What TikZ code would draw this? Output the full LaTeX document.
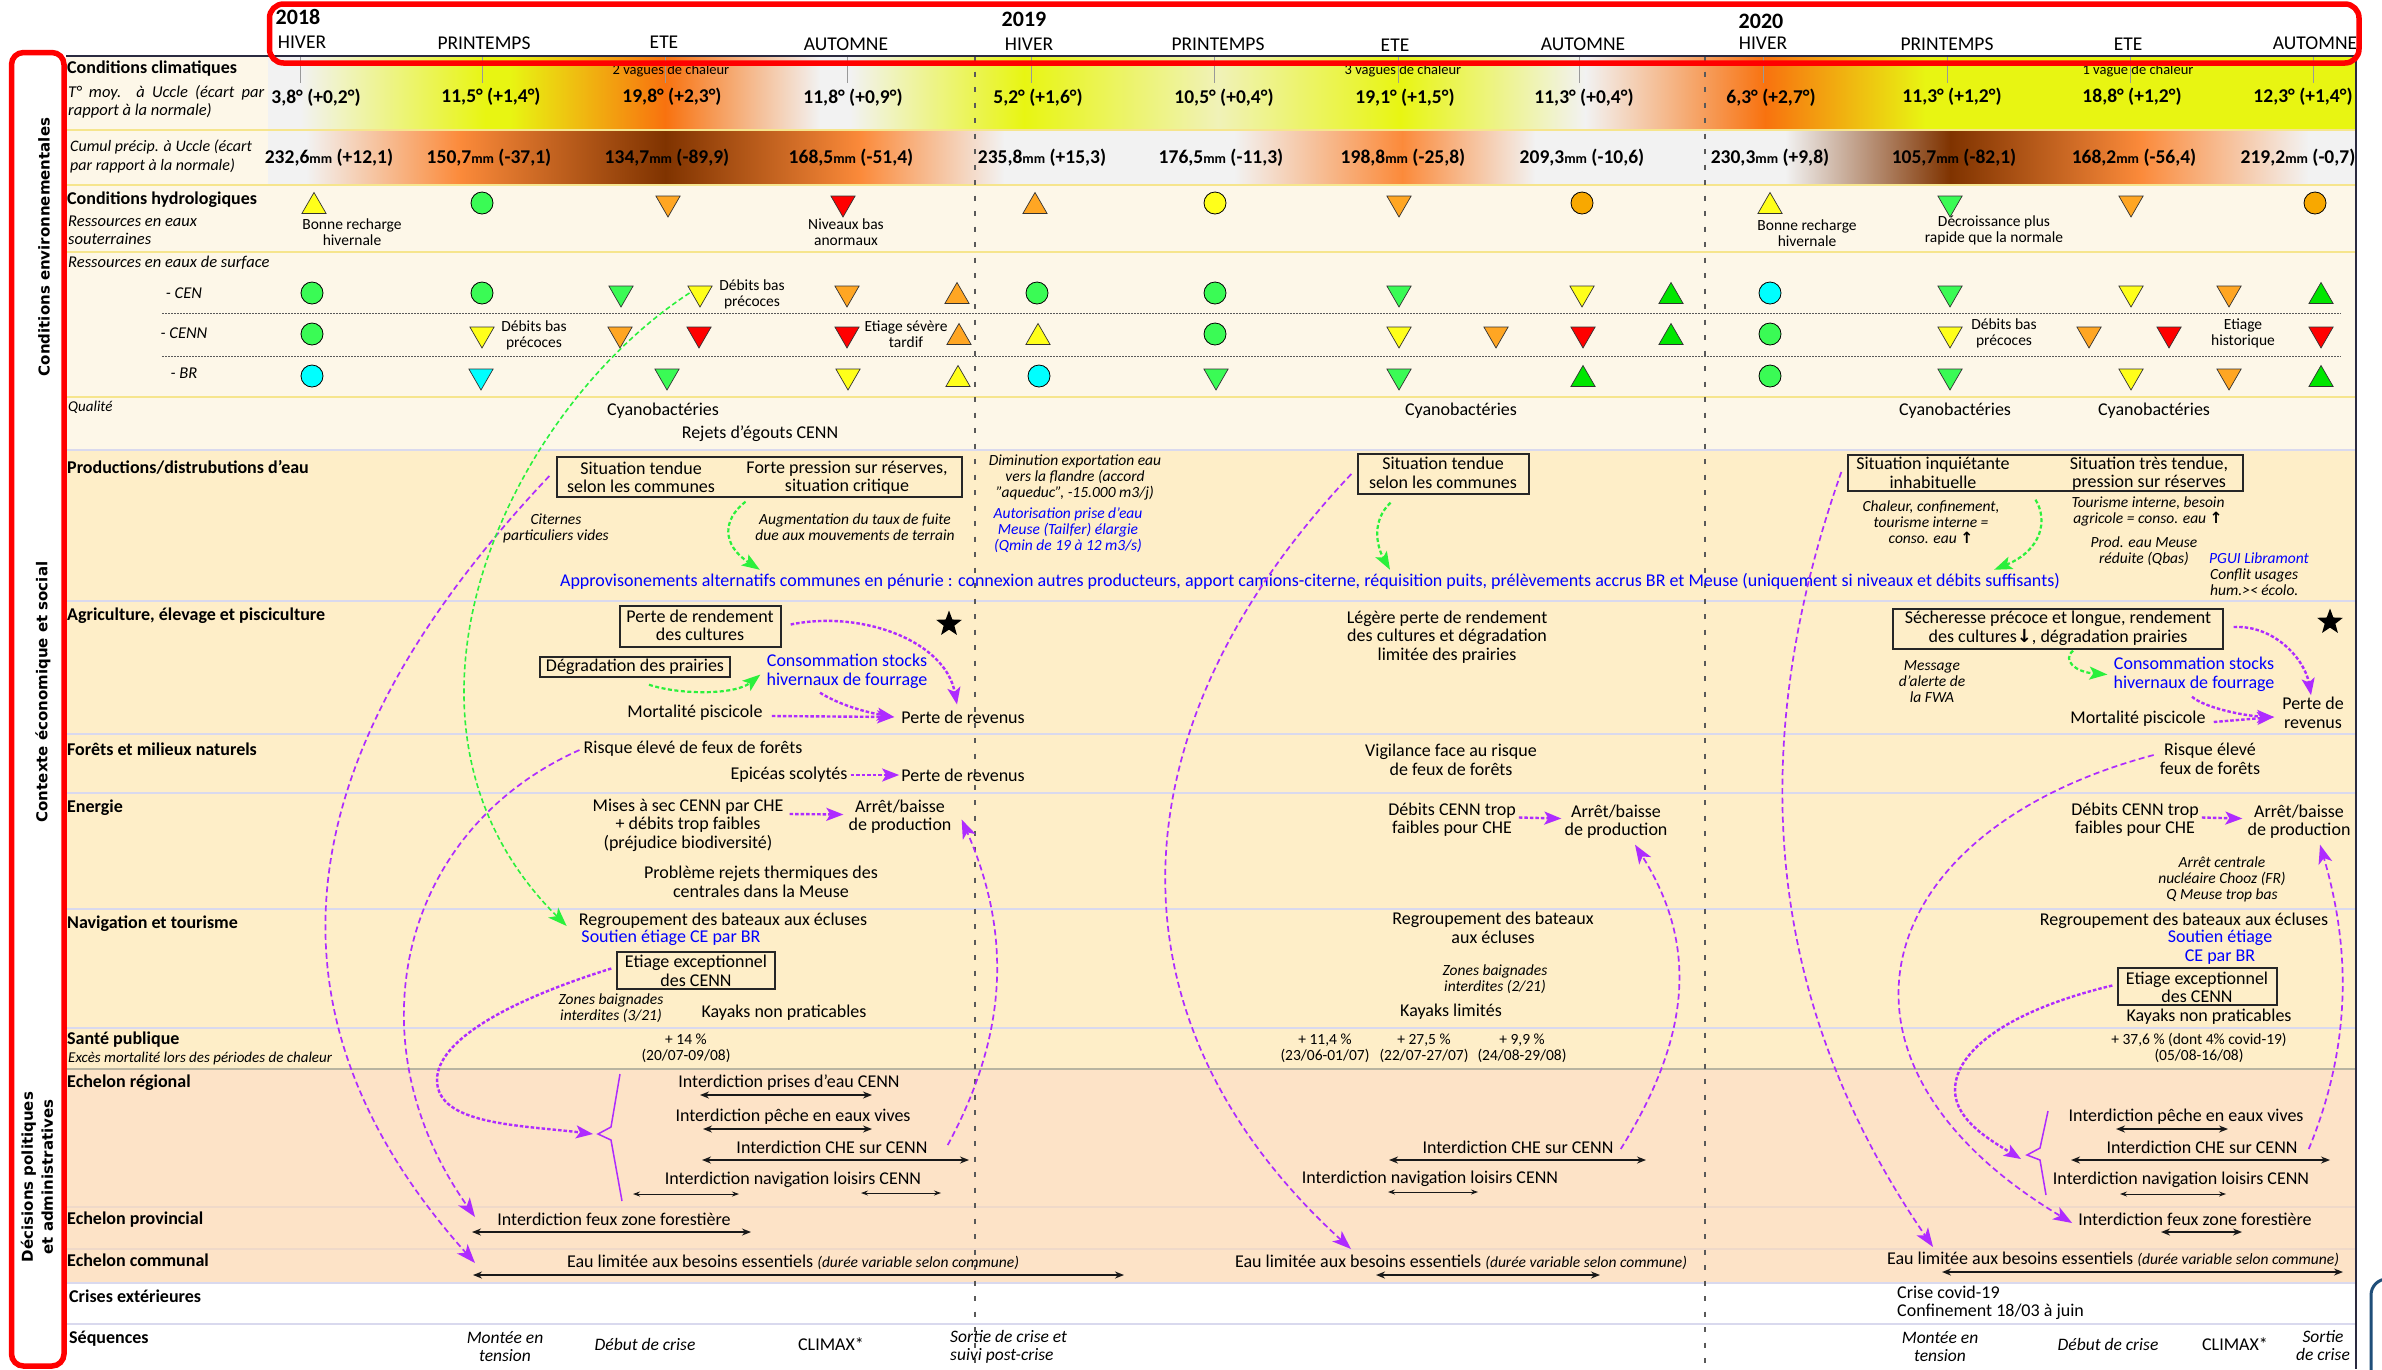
\documentclass[tikz,border=0pt]{standalone}
\usepackage{fontspec}
\setmainfont{Carlito}
\newfontfamily\rotfont{DejaVu Sans}
\newfontfamily\symfont{DejaVu Sans}
\usetikzlibrary{calc,shapes.geometric,arrows.meta,positioning}

\definecolor{cgray}{HTML}{F2F2F2}
\definecolor{cyel}{HTML}{E8F512}
\definecolor{cpale}{HTML}{F0F2B8}
\definecolor{corg}{HTML}{F8720F}
\definecolor{porg}{HTML}{FB8A3A}
\definecolor{pbrown}{HTML}{7F3300}
\definecolor{bandcream}{HTML}{FDF7E8}
\definecolor{bandsand}{HTML}{FEEEC8}
\definecolor{bandpeach}{HTML}{FDE3C7}
\definecolor{lineyel}{HTML}{F6E58D}
\definecolor{linelav}{HTML}{D9D9EE}
\definecolor{linepink}{HTML}{EFD9C9}
\definecolor{linegray}{HTML}{B8B4A0}
\definecolor{sgreen}{HTML}{3AFB55}
\definecolor{sgreenb}{HTML}{00E600}
\definecolor{syellow}{HTML}{FFFF1A}
\definecolor{sorange}{HTML}{FFA623}
\definecolor{sorangeb}{HTML}{F8A800}
\definecolor{sred}{HTML}{FF0000}
\definecolor{scyan}{HTML}{00FFFF}
\definecolor{flowpurple}{HTML}{AE2BFF}
\definecolor{flowgreen}{HTML}{2BF03C}
\definecolor{navy}{HTML}{2A2A40}
\definecolor{frameblue}{HTML}{1F4E79}

\newcommand{\upar}{{\symfont\bfseries\upshape ↑}}
\newcommand{\downar}{{\symfont\bfseries\upshape ↓}}
\newcommand{\precip}[2]{#1{\fontsize{14}{14}\selectfont mm} (#2)}
\newcommand{\eaulim}{Eau limitée aux besoins essentiels {\fontsize{15.5}{16}\selectfont\itshape (durée variable selon commune)}}

\tikzset{
  body/.style={inner sep=0pt,align=center,font=\fontsize{18}{18.5}\selectfont},
  bluebody/.style={body,text=blue},
  note/.style={inner sep=0pt,align=center,font=\fontsize{15.5}{16}\selectfont},
  ital/.style={inner sep=0pt,align=center,font=\fontsize{15.5}{16}\selectfont\itshape},
  seqtext/.style={inner sep=0pt,align=center,font=\fontsize{17.5}{18}\selectfont\itshape},
  rowlabel/.style={inner sep=0pt,anchor=west,font=\fontsize{18}{18}\selectfont\bfseries},
  rowital/.style={inner sep=0pt,anchor=west,align=left,font=\fontsize{16.5}{18}\selectfont\itshape},
  season/.style={inner sep=0pt,font=\fontsize{19.5}{20}\selectfont},
  yearlabel/.style={inner sep=0pt,font=\fontsize{22}{22}\selectfont\bfseries},
  climval/.style={inner sep=0pt,font=\fontsize{19.5}{20}\selectfont\bfseries},
  sidetitle/.style={inner sep=0pt,rotate=90,align=center,font=\fontsize{15}{20}\selectfont\rotfont\bfseries},
  tallybox/.style={draw=black!85,line width=1.4pt,inner sep=0pt},
  symup/.style={regular polygon,regular polygon sides=3,minimum size=28pt,inner sep=0pt,draw=black!80,line width=.7pt,yshift=-3.5pt},
  symdown/.style={symup,shape border rotate=180,yshift=3.5pt},
  symdot/.style={circle,minimum size=22pt,inner sep=0pt,draw=black,line width=.8pt},
  starmark/.style={star,star points=5,star point ratio=2.4,fill=black,minimum size=27pt,inner sep=0pt},
  flowthin/.style={draw=flowpurple,line width=1.7pt,dash pattern=on 6pt off 3.5pt,-{Stealth[length=19pt,width=14pt,inset=5pt]}},
  flowthick/.style={draw=flowpurple,line width=2.4pt,dash pattern=on 3.5pt off 2pt,-{Stealth[length=17pt,width=13pt,inset=4pt]}},
  greenthin/.style={draw=flowgreen,line width=1.6pt,dash pattern=on 5pt off 3pt,-{Stealth[length=19pt,width=14pt,inset=5pt]}},
  greenthick/.style={draw=flowgreen,line width=2.2pt,dash pattern=on 4pt off 2.5pt,-{Stealth[length=18pt,width=13pt,inset=4pt]}},
  spanarrow/.style={draw=black!90,line width=1.5pt,{Stealth[length=9pt,width=7pt]}-{Stealth[length=9pt,width=7pt]}},
  spanfine/.style={draw=black!90,line width=.9pt,{Stealth[length=7pt,width=5pt]}-{Stealth[length=7pt,width=5pt]}},
  bracket/.style={draw=flowpurple,line width=1.5pt}
}

\begin{document}
\begin{tikzpicture}[x=1pt,y=-1pt]

\useasboundingbox[fill=white] (0,0) rectangle (2382,1369);

% bands
\def\bands{57/130/bandcream,130/185/bandcream,185/252/bandcream,252/397/bandcream,397/450/bandcream,450/1069/bandsand,1069/1283/bandpeach}
\foreach \ya/\yb/\c in \bands
  \fill[\c] (66,\ya) rectangle (2355,\yb);

% gradients
\def\tempstops{268/300/cgray/cgray,300/485/cgray/cyel,485/510/cyel/cyel,510/665/cyel/corg,665/820/corg/cgray,820/850/cgray/cgray,850/1024/cgray/cyel,1024/1218/cyel/cpale,1218/1400/cpale/cyel,1400/1585/cyel/cgray,1585/1765/cgray/corg,1765/1925/corg/cyel,1925/2355/cyel/cyel}
\foreach \xa/\xb/\ca/\cb in \tempstops
  \shade[left color=\ca,right color=\cb] (\xa,57) rectangle (\xb+.5,129);
\def\rainstops{268/306/cgray/cgray,306/460/cgray/porg,460/665/porg/pbrown,665/860/pbrown/porg,860/1004/porg/cgray,1004/1234/cgray/cgray,1234/1402/cgray/porg,1402/1535/porg/cgray,1535/1785/cgray/cgray,1785/1950/cgray/pbrown,1950/2140/pbrown/porg,2140/2308/porg/cgray,2308/2355/cgray/cgray}
\foreach \xa/\xb/\ca/\cb in \rainstops
  \shade[left color=\ca,right color=\cb] (\xa,131) rectangle (\xb+.5,184);

% band rules
\def\rules{130/lineyel,185/lineyel,252/lineyel,397/lineyel,450/linelav,601/linelav,734/linelav,793/linelav,909/linelav,1028/linelav,1069/linegray,1207/linepink,1249/linepink,1283/linelav,1324/linelav}
\foreach \y/\c in \rules
  \draw[\c,line width=1.6pt] (66,\y) -- (2355,\y);
\foreach \y in {313,356}
  \draw[black!65,line width=.9pt,dash pattern=on 1.5pt off 1.5pt] (162,\y) -- (2341,\y);

% season ticks and year separators
\foreach \x in {300,482,665,847,1031,1214,1398,1579,1763,1947,2130,2313}
  \draw[black!40,line width=.8pt] (\x,57) -- (\x,83);
\foreach \x in {975,1705}
  \draw[black!65,line width=2pt,dash pattern=on 5pt off 10.5pt] (\x,56) -- (\x,1369);
\draw[navy,line width=2.4pt] (66,56) -- (2356,56);
\draw[navy,line width=2pt] (2356,56) -- (2356,1369);

% header
\def\years{2018/298/17,2019/1024/19,2020/1761/21}
\foreach \i/\x/\y in \years
  \node[yearlabel] (y\i) at (\x,\y) {\i};
\def\seasons{302/42/HIVER,484/43/PRINTEMPS,664/42/ETE,846/44/AUTOMNE,1029/44/HIVER,1218/44/PRINTEMPS,1395/45/ETE,1583/44/AUTOMNE,1763/43/HIVER,1947/44/PRINTEMPS,2128/44/ETE,2315/43/AUTOMNE}
\foreach \x/\y/\element [count=\i] in \seasons
  \node[season] (s\i) at (\x,\y) {\element};

% row labels
\def\rowlabels{climat/67/69/{Conditions climatiques},hydro/67/200/{Conditions hydrologiques},prod/67/467/{Productions/distrubutions d'eau},agri/67/616/{Agriculture, élevage et pisciculture},foret/67/749/{Forêts et milieux naturels},energ/67/808/{Energie},navig/67/924/{Navigation et tourisme},sante/67/1040/{Santé publique},regio/67/1083/{Echelon régional},provi/67/1220/{Echelon provincial},commu/67/1260/{Echelon communal},crises/69/1296/{Crises extérieures},seque/69/1339/{Séquences}}
\foreach \n/\x/\y/\element in \rowlabels
  \node[rowlabel] (\n) at (\x,\y) {\element};
\node[rowital,text width=196pt,align=justify] (tmoy) at (68,101.5) {T° moy. à Uccle (écart par rapport à la normale)};
\node[rowital,font=\fontsize{16}{19}\selectfont\itshape] (cumul) at (70,156.5) {Cumul précip. à Uccle (écart\\par rapport à la normale)};
\node[rowital] (eauxsout) at (68,230.5) {Ressources en eaux\\souterraines};
\node[rowital] (eauxsurf) at (68,263) {Ressources en eaux de surface};
\node[rowital,anchor=center] (lcen) at (184,293) {- CEN};
\node[rowital,anchor=center] (lcenn) at (184,333) {- CENN};
\node[rowital,anchor=center] (lbr) at (184,373) {- BR};
\node[rowital,font=\fontsize{15}{16}\selectfont\itshape] (qual) at (68,407) {Qualité};
\node[rowital,font=\fontsize{15}{16}\selectfont\itshape] (exces) at (68,1058) {Excès mortalité lors des périodes de chaleur};
\node[sidetitle] (side1) at (44,247) {Conditions environnementales};
\node[sidetitle] (side2) at (43,692) {Contexte économique et social};
\node[sidetitle] (side3) at (37,1177) {Décisions politiques\\et administratives};

% climate values
\def\tempvals{316/98/{3,8° (+0,2°)},491/97/{11,5° (+1,4°)},672/97/{19,8° (+2,3°)},853/98/{11,8° (+0,9°)},1038/98/{5,2° (+1,6°)},1224/98/{10,5° (+0,4°)},1405/98/{19,1° (+1,5°)},1584/98/{11,3° (+0,4°)},1771/98/{6,3° (+2,7°)},1952/97/{11,3° (+1,2°)},2132/97/{18,8° (+1,2°)},2303/97/{12,3° (+1,4°)}}
\foreach \x/\y/\element [count=\i] in \tempvals
  \node[climval] (t\i) at (\x,\y) {\element};
\def\rainvals{329/{232,6}/{+12,1},489/{150,7}/{-37,1},667/{134,7}/{-89,9},851/{168,5}/{-51,4},1042/{235,8}/{+15,3},1221/{176,5}/{-11,3},1403/{198,8}/{-25,8},1582/{209,3}/{-10,6},1770/{230,3}/{+9,8},1954/{105,7}/{-82,1},2134/{168,2}/{-56,4},2298/{219,2}/{-0,7}}
\foreach \x/\v/\d [count=\i] in \rainvals
  \node[climval] (p\i) at (\x,158) {\precip{\v}{\d}};
\def\waves{671/{2 vagues de chaleur},1403/{3 vagues de chaleur},2138/{1 vague de chaleur}}
\foreach \x/\element [count=\i] in \waves
  \node[note,font=\fontsize{14.5}{15}\selectfont] (w\i) at (\x,71) {\element};

% symbols
\def\hydrosyms{314/syellow/symup,482/sgreen/symdot,668/sorange/symdown,843/sred/symdown,1035/sorange/symup,1215/syellow/symdot,1399/sorange/symdown,1582/sorangeb/symdot,1770/syellow/symup,1950/sgreen/symdown,2131/sorange/symdown,2315/sorangeb/symdot}
\foreach \x/\c/\s [count=\i] in \hydrosyms
  \node[\s,fill=\c] (h\i) at (\x,203) {};
\def\censyms{312/sgreen/symdot,482/sgreen/symdot,621/sgreen/symdown,700/syellow/symdown,847/sorange/symdown,957/sorange/symup,1037/sgreen/symdot,1215/sgreen/symdot,1399/sgreen/symdown,1582/syellow/symdown,1671/sgreenb/symup,1770/scyan/symdot,1950/sgreen/symdown,2131/syellow/symdown,2229/sorange/symdown,2321/sgreenb/symup}
\foreach \x/\c/\s [count=\i] in \censyms
  \node[\s,fill=\c] (c\i) at (\x,293) {};
\def\cennsyms{312/sgreen/symdot,482/syellow/symdown,620/sorange/symdown,699/sred/symdown,847/sred/symdown,959/sorange/symup,1038/syellow/symup,1215/sgreen/symdot,1399/syellow/symdown,1496/sorange/symdown,1583/sred/symdown,1671/sgreenb/symup,1770/sgreen/symdot,1950/syellow/symdown,2089/sorange/symdown,2169/sred/symdown,2321/sred/symdown}
\foreach \x/\c/\s [count=\i] in \cennsyms
  \node[\s,fill=\c] (n\i) at (\x,334) {};
\def\brsyms{312/scyan/symdot,481/scyan/symdown,667/sgreen/symdown,848/syellow/symdown,958/syellow/symup,1039/scyan/symdot,1216/sgreen/symdown,1399/sgreen/symdown,1583/sgreenb/symup,1770/sgreen/symdot,1950/sgreen/symdown,2131/syellow/symdown,2229/sorange/symdown,2321/sgreenb/symup}
\foreach \x/\c/\s [count=\i] in \brsyms
  \node[\s,fill=\c] (b\i) at (\x,376) {};

% notes beside the symbols
\def\notes{noa/352/232/{Bonne recharge\\hivernale},nob/846/232/{Niveaux bas\\anormaux},noc/1807/233/{Bonne recharge\\hivernale},nod/1994/230/{Décroissance plus\\rapide que la normale},noe/752/294/{Débits bas\\précoces},nof/534/335/{Débits bas\\précoces},nog/906/334/{Etiage sévère\\tardif},noh/2004/333/{Débits bas\\précoces},noi/2243/333/{Etiage\\historique},san1/686/1048/{+ 14 \%\\(20/07-09/08)},san2/1325/1048/{+ 11,4 \%\\(23/06-01/07)},san3/1424/1048/{+ 27,5 \%\\(22/07-27/07)},san4/1522/1048/{+ 9,9 \%\\(24/08-29/08)},san5/2199/1048/{+ 37,6 \% (dont 4\% covid-19)\\(05/08-16/08)}}
\foreach \n/\x/\y/\element in \notes
  \node[note] (\n) at (\x,\y) {\element};

% plain texts
\def\plaintexts{cya1/663/411/{Cyanobactéries},rej1/760/434/{Rejets d'égouts CENN},cya2/1461/411/{Cyanobactéries},cya3/1955/411/{Cyanobactéries},cya4/2154/411/{Cyanobactéries},mort18/695/713/{Mortalité piscicole},rev18a/963/717/{Perte de revenus},risq18/693/749/{Risque élevé de feux de forêts},epic18/789/775/{Epicéas scolytés},rev18b/963/775/{Perte de revenus},mise18/688/825/{Mises à sec CENN par CHE\\+ débits trop faibles\\(préjudice biodiversité)},arret18/900/816.5/{Arrêt/baisse\\de production},rejth/761/882/{Problème rejets thermiques des\\centrales dans la Meuse},regr18/723/921/{Regroupement des bateaux aux écluses},kay18/784/1013/{Kayaks non praticables},ipe18/789/1083/{Interdiction prises d'eau CENN},ipv18/793/1117/{Interdiction pêche en eaux vives},ich18/832/1147/{Interdiction CHE sur CENN},inv18/793/1180/{Interdiction navigation loisirs CENN},ifz18/614/1219/{Interdiction feux zone forestière},eau18/793/1262/{\eaulim},leg19/1447/637/{Légère perte de rendement\\des cultures et dégradation\\limitée des prairies},vig19/1451/760/{Vigilance face au risque\\de feux de forêts},deb19/1452/819.5/{Débits CENN trop\\faibles pour CHE},arret19/1616/821.5/{Arrêt/baisse\\de production},regr19/1493/928/{Regroupement des bateaux\\aux écluses},kay19/1451/1012/{Kayaks limités},ich19/1518/1147/{Interdiction CHE sur CENN},inv19/1430/1179/{Interdiction navigation loisirs CENN},eau19/1461/1262/{\eaulim},mort20/2138/719/{Mortalité piscicole},rev20/2313/713/{Perte de\\revenus},risq20/2210/759/{Risque élevé\\feux de forêts},deb20/2135/819.5/{Débits CENN trop\\faibles pour CHE},arret20/2299/821.5/{Arrêt/baisse\\de production},regr20/2184/921/{Regroupement des bateaux aux écluses},kay20/2209/1017/{Kayaks non praticables},ipv20/2186/1117/{Interdiction pêche en eaux vives},ich20/2202/1147/{Interdiction CHE sur CENN},inv20/2181/1180/{Interdiction navigation loisirs CENN},ifz20/2195/1219/{Interdiction feux zone forestière},eau20/2113/1259/{\eaulim},clim18/831/1344/{CLIMAX*},clim20/2235/1344/{CLIMAX*}}
\foreach \n/\x/\y/\element in \plaintexts
  \node[body] (\n) at (\x,\y) {\element};
\node[body,align=left,anchor=west] (covid) at (1897,1303) {Crise covid-19\\Confinement 18/03 à juin};

% blue texts
\def\bluetexts{appro/1310/581/{Approvisonements alternatifs communes en pénurie : connexion autres producteurs, apport camions-citerne, réquisition puits, prélèvements accrus BR et Meuse (uniquement si niveaux et débits suffisants)},stock18/847/671.5/{Consommation stocks\\hivernaux de fourrage},sout18/671/938/{Soutien étiage CE par BR},stock20/2194/674.5/{Consommation stocks\\hivernaux de fourrage},sout20/2220/947/{Soutien étiage\\CE par BR}}
\foreach \n/\x/\y/\element in \bluetexts
  \node[bluebody] (\n) at (\x,\y) {\element};

% italic texts
\def\italtexts{cit18/556/528.5/{Citernes\\particuliers vides},aug18/855/527/{Augmentation du taux de fuite\\due aux mouvements de terrain},dim19/1075/477.5/{Diminution exportation eau\\vers la flandre (accord\\"aqueduc", -15.000 m3/j)},cha20/1931/522.5/{Chaleur, confinement,\\tourisme interne =\\conso. eau \upar},tou20/2148/511/{Tourisme interne, besoin\\agricole = conso. eau \upar},pro20/2144/551.5/{Prod. eau Meuse\\réduite (Qbas)},msg20/1932/682/{Message\\d'alerte de\\la FWA},cho20/2222/879.5/{Arrêt centrale\\nucléaire Chooz (FR)\\Q Meuse trop bas},zon18/611/1008.5/{Zones baignades\\interdites (3/21)},zon19/1495/979.5/{Zones baignades\\interdites (2/21)}}
\foreach \n/\x/\y/\element in \italtexts
  \node[ital] (\n) at (\x,\y) {\element};
\node[ital,text=blue] (aut19) at (1068,530.5) {Autorisation prise d'eau\\Meuse (Tailfer) élargie\\(Qmin de 19 à 12 m3/s)};
\node[ital,text=blue,anchor=west] (pgui) at (2209,558) {PGUI Libramont};
\node[ital,align=left,anchor=west] (conf) at (2210,582.5) {Conflit usages\\hum.>< écolo.};

% sequences
\def\seqtexts{mon18/505/1347/{Montée en\\tension},deb18/645/1344/{Début de crise},mon20/1940/1347/{Montée en\\tension},deb20s/2108/1344/{Début de crise},sor20/2323/1345/{Sortie\\de crise}}
\foreach \n/\x/\y/\element in \seqtexts
  \node[seqtext] (\n) at (\x,\y) {\element};
\node[seqtext,align=left,anchor=west] (sor18) at (950,1347) {Sortie de crise et\\suivi post-crise};

% boxes
\def\boxes{prodbox18/759.5/477/405/40,prodbox19/1443.5/474/171/40,prodbox20/2045.5/473/395/36,rend18/700.5/626.5/161/41,degr18/635/667/190/20,etiage18/696/970.5/158/37,sech20/2058/629/330/40,etiage20/2197.5/986.5/159/37}
\foreach \n/\x/\y/\w/\h in \boxes
  \node[tallybox,minimum width=\w pt,minimum height=\h pt] (\n) at (\x,\y) {};
\def\boxtexts{tsit18a/641/477.5/{Situation tendue\\selon les communes},tsit18b/847/477.5/{Forte pression sur réserves,\\situation critique},tsit19/1443/473/{Situation tendue\\selon les communes},tsit20a/1933/473/{Situation inquiétante\\inhabituelle},tsit20b/2149/473.5/{Situation très tendue,\\pression sur réserves},trend18/700/625.5/{Perte de rendement\\des cultures},tdegr18/635/667/{Dégradation des prairies},tetia18/696/971/{Etiage exceptionnel\\des CENN},tsech20/2058/628.5/{Sécheresse précoce et longue, rendement\\des cultures\downar, dégradation prairies},tetia20/2197/987.5/{Etiage exceptionnel\\des CENN}}
\foreach \n/\x/\y/\element in \boxtexts
  \node[body] (\n) at (\x,\y) {\element};
\node[starmark] (star18) at (949,624) {};
\node[starmark] (star20) at (2330,622) {};

% durations
\def\spans{a/700/872/1095,b/703/872/1129,c/702/969/1160,f/472/751/1232,g/473/1124/1275,h/1389/1646/1160,j/1376/1600/1275,k/2116/2228/1129,l/2071/2330/1160,n/2161/2242/1232,o/1942/2343/1272}
\foreach \n/\xa/\xb/\y in \spans {
  \coordinate (span\n1) at (\xa,\y);
  \coordinate (span\n2) at (\xb,\y);
  \draw[spanarrow] (span\n1) -- (span\n2);
}
\def\finespans{d/633/739/1194,e/861/941/1193,i/1388/1478/1192,m/2120/2226/1194}
\foreach \n/\xa/\xb/\y in \finespans {
  \coordinate (span\n1) at (\xa,\y);
  \coordinate (span\n2) at (\xb,\y);
  \draw[spanfine] (span\n1) -- (span\n2);
}

% brackets
\coordinate (brace18) at (598,1134);
\coordinate (brace20) at (2027,1155);
\draw[bracket] (620,1074) -- (611,1127) -- (brace18) -- (611,1140) -- (622,1201);
\draw[bracket] (2048,1111) -- (2040,1148) -- (brace20) -- (2040,1160) -- (2046,1195);

% arrows 2018
\coordinate (eauin18) at (475,1263);
\coordinate (ifzin18) at (475,1217);
\draw[flowthin] ($(prodbox18.west)+(-7,-1)$) .. controls (300,740) and (240,1000) .. (eauin18);
\draw[flowthin] ($(risq18.west)+(-4,1)$) .. controls (400,830) and (350,1040) .. (ifzin18);
\draw[greenthin] ($(c4.west)+(-2,0)$) .. controls (510,410) and (360,720) .. ($(regr18.west)+(-12,5)$);
\draw[greenthick] ($(prodbox18.south)+(-14,4)$) .. controls (722,520) and (722,545) .. ($(appro.north west)+(200,-3)$);
\draw[flowthick] ($(rend18.east)+(9,-2)$) .. controls (860,610) and (945,640) .. ($(rev18a.north)+(-6,-6)$);
\draw[greenthick] ($(degr18.south)+(14,7)$) .. controls (680,695) and (735,695) .. ($(stock18.west)+(-6,3)$);
\draw[flowthick] ($(stock18.south)+(-27,4)$) .. controls (840,705) and (865,712) .. ($(rev18a.west)+(-7,0)$);
\draw[flowthick] ($(mort18.east)+(9,3)$) -- ($(rev18a.west)+(-7,0)$);
\draw[flowthick] ($(epic18.east)+(3,0)$) -- ($(rev18b.west)+(-2,0)$);
\draw[flowthick] ($(mise18.east)+(6,-11)$) -- ($(arret18.west)+(-5,-2)$);
\draw[flowthin] ($(ich18.east)+(20,-2)$) .. controls (1010,1030) and (1010,930) .. ($(arret18.east)+(10,3)$);
\draw[flowthick] ($(etiage18.west)+(-5,-2)$) .. controls (510,1000) and (437,1040) .. (437,1080) .. controls (437,1125) and (520,1125) .. ($(brace18)+(-5,0)$);

% arrows 2019
\coordinate (eauin19) at (1351,1249);
\draw[flowthin] ($(prodbox19.west)+(-6,0)$) .. controls (1110,730) and (1100,1020) .. (eauin19);
\draw[greenthick] ($(prodbox19.south)+(-53,8)$) .. controls (1372,520) and (1376,545) .. ($(appro.north)+(80,-3)$);
\draw[flowthick] ($(deb19.east)+(3,-2)$) -- ($(arret19.west)+(-3,-3)$);
\draw[flowthin] ($(ich19.east)+(7,2)$) .. controls (1695,1030) and (1695,940) .. ($(arret19.south)+(19,6)$);

% arrows 2020
\coordinate (eauin20) at (1933,1247);
\draw[flowthin] ($(prodbox20.west)+(-6,-1)$) .. controls (1740,760) and (1770,1010) .. (eauin20);
\draw[greenthick] ($(prodbox20.south)+(-10,8)$) .. controls (2048,520) and (2042,550) .. ($(appro.north east)+(-66,-3)$);
\draw[flowthick] ($(sech20.east)+(10,-2)$) .. controls (2275,625) and (2305,660) .. ($(rev20.north)+(-2,-2)$);
\draw[greenthick] ($(sech20.south)+(15,1)$) .. controls (2062,660) and (2075,672) .. ($(stock20.west)+(-6,0)$);
\draw[flowthick] ($(stock20.south)+(-2,5)$) .. controls (2205,708) and (2245,716) .. ($(rev20.west)+(-8,4)$);
\draw[flowthick] ($(mort20.east)+(8,3)$) -- ($(rev20.west)+(-8,4)$);
\draw[flowthin] ($(risq20.west)+(-6,-4)$) .. controls (1870,830) and (1800,1060) .. ($(ifz20.west)+(-6,4)$);
\draw[flowthick] ($(deb20.east)+(3,-2)$) -- ($(arret20.west)+(-5,-3)$);
\draw[flowthin] ($(ich20.east)+(11,2)$) .. controls (2358,1030) and (2345,930) .. ($(arret20.south)+(21,6)$);
\draw[flowthick] ($(etiage20.west)+(-5,-1)$) .. controls (2010,1010) and (1955,1050) .. (1955,1090) .. controls (1955,1120) and (1990,1140) .. ($(brace20)+(-6,4)$);

% frames
\draw[red,line width=5.5pt,rounded corners=14pt] (269.5,4) rectangle (2359,63);
\draw[red,line width=5.5pt,rounded corners=12pt] (11.5,52.5) rectangle (64,1366);
\draw[frameblue,line width=3pt,rounded corners=16pt] (2400,1279) -- (2371,1279) -- (2371,1385);

\end{tikzpicture}
\end{document}
